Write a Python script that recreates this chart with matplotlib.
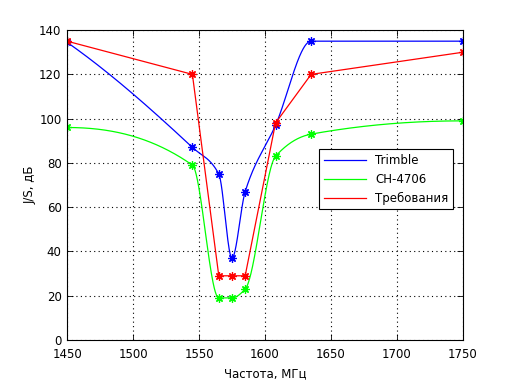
import numpy as np
import matplotlib
matplotlib.use("Agg")
import matplotlib.pyplot as plt

# measured points (MHz, dB)
freq_trimble = [1450, 1545, 1565, 1575, 1585, 1608, 1635, 1750]
js_trimble = [134.5, 87, 75, 37, 67, 97, 135, 135]

freq_ch = [1450, 1545, 1565, 1575, 1585, 1608, 1635, 1750]
js_ch = [96, 79, 19, 19, 23, 83, 93, 99]

freq_req = [1450, 1545, 1565, 1575, 1585, 1608, 1635, 1750]
js_req = [135, 120, 29, 29, 29, 98, 120, 130]


def pchip(x, y, xs):
    x = np.asarray(x, float)
    y = np.asarray(y, float)
    h = np.diff(x)
    d = np.diff(y) / h
    n = len(x)
    m = np.zeros(n)
    for k in range(1, n - 1):
        if d[k - 1] * d[k] > 0:
            w1 = 2 * h[k] + h[k - 1]
            w2 = h[k] + 2 * h[k - 1]
            m[k] = (w1 + w2) / (w1 / d[k - 1] + w2 / d[k])
    # end slopes
    def end(h0, h1, d0, d1):
        s = ((2 * h0 + h1) * d0 - h0 * d1) / (h0 + h1)
        if np.sign(s) != np.sign(d0):
            s = 0
        elif np.sign(d0) != np.sign(d1) and abs(s) > abs(3 * d0):
            s = 3 * d0
        return s
    m[0] = end(h[0], h[1], d[0], d[1])
    m[-1] = end(h[-1], h[-2], d[-1], d[-2])
    idx = np.clip(np.searchsorted(x, xs) - 1, 0, n - 2)
    t = (xs - x[idx]) / h[idx]
    h00 = 2 * t**3 - 3 * t**2 + 1
    h10 = t**3 - 2 * t**2 + t
    h01 = -2 * t**3 + 3 * t**2
    h11 = t**3 - t**2
    return (h00 * y[idx] + h10 * h[idx] * m[idx] + h01 * y[idx + 1]
            + h11 * h[idx] * m[idx + 1])


plt.rcParams['font.family'] = ['DejaVu Sans']
plt.rcParams['font.size'] = 8.5

fig = plt.figure(figsize=(5.12, 3.84), dpi=100)
ax = fig.add_axes([0.131, 0.1146, 0.773, 0.807])

xs = np.linspace(1450, 1750, 1200)
series = [
    (freq_trimble, js_trimble, (0, 0, 1), 'Trimble', True),
    (freq_ch, js_ch, (0, 1, 0), 'CH-4706', True),
    (freq_req, js_req, (1, 0, 0), 'Требования', False),
]
for fx, fy, col, lab, smooth in series:
    if smooth:
        ax.plot(xs, pchip(fx, fy, xs), color=col, lw=0.9, label=lab)
    else:
        ax.plot(fx, fy, color=col, lw=0.9, label=lab)
    ax.plot(fx, fy, ls='none', marker=(8, 2, 0), color=col, ms=6, mew=0.9)

ax.set_xlim(1450, 1750)
ax.set_ylim(0, 140)
ax.set_xticks(np.arange(1450, 1751, 50))
ax.set_yticks(np.arange(0, 141, 20))
ax.grid(True, color='black', linestyle=(0, (1, 3)), linewidth=0.8)
ax.tick_params(direction='in', top=True, right=True, length=4, width=0.6)
ax.tick_params(axis='x', pad=6)
ax.tick_params(axis='y', pad=4)
for s in ax.spines.values():
    s.set_linewidth(0.8)

ax.set_xlabel('Частота, МГц', labelpad=4)
ax.set_ylabel('J/S, дБ', labelpad=2)

leg = ax.legend(loc='upper left', bbox_to_anchor=(0.636, 0.616),
                fancybox=False, edgecolor='black', framealpha=1,
                handlelength=3.6, borderaxespad=0, fontsize=8.5)
leg.get_frame().set_linewidth(0.8)

fig.savefig('out.png', dpi=100)
